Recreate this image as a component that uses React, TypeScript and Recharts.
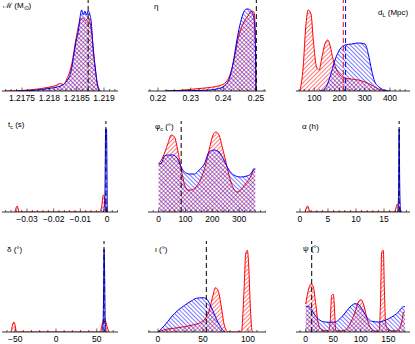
import React from 'react';
import { ComposedChart, Area, XAxis, YAxis, ReferenceLine } from 'recharts';

type Pt = [number, number];

const RED = '#ff0000';
const BLUE = '#0000ff';
const FONT = '"Liberation Sans", Arial, sans-serif';

// chirp mass
const mcRed: Pt[] = [[1.2172, 0], [1.2175, 0.5], [1.21771, 1.5], [1.21801, 4], [1.21812, 5.5], [1.2182, 7.5], [1.21826, 6.5], [1.21832, 12], [1.21841, 27], [1.21849, 53], [1.21856, 70], [1.21862, 73], [1.21866, 70], [1.21871, 73], [1.21877, 60], [1.21884, 23], [1.21889, 3], [1.21893, 0]];
const mcBlue: Pt[] = [[1.2174, 0], [1.21771, 0.7], [1.21801, 2.7], [1.2182, 5], [1.21832, 10], [1.21841, 23], [1.21845, 37], [1.21849, 50], [1.21853, 60], [1.21856, 73], [1.21859, 81], [1.21862, 76], [1.21865, 80], [1.21868, 76], [1.21871, 80], [1.21874, 77], [1.21877, 67], [1.2188, 43], [1.21884, 23], [1.21887, 10], [1.2189, 3], [1.21894, 0]];
const mcTicks = [1.2175, 1.218, 1.2185, 1.219];
const mcTickLabels = ['1.2175', '1.218', '1.2185', '1.219'];

// symmetric mass ratio
const etaRed: Pt[] = [[0.222, 0], [0.2261, 0.5], [0.2302, 1.7], [0.2343, 3], [0.2384, 5], [0.2404, 7.7], [0.2419, 15], [0.2435, 35], [0.2445, 52], [0.246, 67], [0.2475, 75], [0.2486, 80], [0.2494, 79], [0.2498, 58], [0.25, 0]];
const etaBlue: Pt[] = [[0.2225, 0], [0.2261, 0.2], [0.2343, 0.7], [0.2384, 2.3], [0.2409, 6.7], [0.2419, 13], [0.243, 28], [0.244, 48], [0.245, 65], [0.246, 77], [0.247, 82], [0.2475, 82], [0.2486, 80], [0.2494, 72], [0.2498, 45], [0.25, 0]];
const etaTicks = [0.22, 0.23, 0.24, 0.25];
const etaTickLabels = ['0.22', '0.23', '0.24', '0.25'];

// luminosity distance
const dlRed: Pt[] = [[43, 0], [56, 24], [66, 64], [76, 81], [87, 77], [96, 51], [109, 24], [119, 21], [129, 32], [142, 47], [153, 51], [162, 46], [175, 31], [189, 21], [202, 16], [222, 13], [248, 12], [274, 11], [301, 9], [327, 6], [353, 2.3], [380, 0]];
const dlBlue: Pt[] = [[123, 0], [142, 2.3], [162, 14], [182, 31], [202, 42], [222, 46], [248, 47], [274, 48], [301, 47], [314, 37], [327, 21], [340, 9], [360, 3.3], [380, 0.7], [400, 0]];
const dlTicks = [100, 200, 300, 400];
const dlTickLabels = ['100', '200', '300', '400'];

// coalescence time
const tcRed: Pt[] = [[-0.0345, 0], [-0.0337, 6], [-0.0329, 0], [-0.0029, 0], [-0.002, 5], [-0.0014, 17], [-0.0009, 14], [-0.0004, 5], [-0.0001, 0]];
const tcBlue: Pt[] = [[-0.0013, 0], [-0.0008, 15], [-0.0005, 83], [-0.0002, 83], [0.0001, 0]];
const tcTicks = [-0.03, -0.02, -0.01, 0];
const tcTickLabels = ['\u22120.03', '\u22120.02', '\u22120.01', '0'];

// coalescence phase
const phiRed: Pt[] = [[0, 48], [16, 55], [34, 68], [47, 77], [59, 75], [71, 62], [84, 43], [96, 28], [108, 22], [120, 22], [139, 25], [157, 33], [176, 48], [188, 62], [200, 75], [213, 80], [225, 77], [237, 65], [249, 52], [262, 37], [280, 23], [292, 20], [305, 22], [323, 28], [342, 35], [354, 42], [360, 43]];
const phiBlue: Pt[] = [[0, 48], [10, 49], [22, 56], [34, 57], [53, 57], [71, 53], [84, 45], [96, 40], [114, 38], [133, 38], [151, 42], [170, 48], [188, 60], [206, 62], [225, 60], [243, 52], [262, 42], [280, 37], [305, 35], [329, 36], [348, 40], [354, 43], [360, 43]];
const phiTicks = [0, 100, 200, 300];
const phiTickLabels = ['0', '100', '200', '300'];

// right ascension
const raRed: Pt[] = [[0.9, 0], [1.37, 6], [1.8, 0], [16.9, 0], [17.37, 8], [17.8, 3], [18.1, 0]];
const raBlue: Pt[] = [[17.45, 0], [17.6, 20], [17.7, 83], [17.8, 30], [17.95, 0]];
const raTicks = [0, 5, 10, 15];
const raTickLabels = ['0', '5', '10', '15'];

// declination
const decRed: Pt[] = [[-55, 0], [-51.4, 10], [-48, 0], [54, 0], [56, 6], [58, 12], [59.5, 14], [61, 10], [63, 4], [65, 0]];
const decBlue: Pt[] = [[56, 0], [57.5, 8], [58.3, 40], [58.8, 83], [59.5, 60], [60.3, 10], [61.5, 0]];
const decTicks = [-50, 0, 50];
const decTickLabels = ['\u221250', '0', '50'];

// inclination
const incRed: Pt[] = [[0, 0], [7.4, 2.3], [22.2, 4.3], [37, 6.7], [48.1, 10], [53.7, 15], [57.4, 23], [61.1, 36.7], [63.7, 44.3], [66.7, 41.7], [70.4, 25], [73.3, 8.3], [75.9, 1.7], [78.5, 0], [92.6, 0], [95.6, 41.7], [97.4, 78], [99.3, 81.7], [100.7, 68], [102.6, 25], [104.4, 1.7], [105.6, 0]];
const incBlue: Pt[] = [[0, 0], [7.4, 6.7], [14.8, 15], [22.2, 21.7], [29.6, 26.7], [37, 31], [42.6, 33.7], [50, 34.3], [53.7, 33.3], [57.4, 28.3], [61.1, 21], [64.8, 13.3], [68.5, 6.7], [72.2, 1.7], [74.8, 0]];
const incTicks = [0, 50, 100];
const incTickLabels = ['0', '50', '100'];

// polarisation angle
const psiRed: Pt[] = [[0, 28], [4.8, 41.7], [9.7, 48.3], [13.9, 45], [18.2, 28.3], [23, 8.3], [29, 2.3], [41.2, 1], [44.2, 8.3], [47.2, 36.7], [50.2, 37.7], [52.1, 25], [54.5, 1.7], [59.3, 1], [71.4, 1.7], [80.5, 8.3], [89.6, 20], [95.6, 30], [100.5, 32.3], [104.7, 28.3], [110.8, 15], [116.8, 5], [125.9, 1], [133.2, 1], [135.6, 25], [138, 80], [141, 81.7], [142.9, 41.7], [145.3, 8.3], [150.1, 1.7], [162.2, 1], [169.5, 3.3], [174.3, 10], [178, 20], [180, 20]];
const psiBlue: Pt[] = [[0, 25.7], [4.8, 25.7], [10.9, 22.3], [16.9, 16.7], [26, 11.7], [35.1, 10], [44.2, 9.7], [53.3, 10], [62.3, 13.3], [71.4, 19], [80.5, 25], [89.6, 28.3], [95.6, 27.7], [101.7, 23.3], [110.8, 15], [119.9, 10.7], [132, 10], [144.1, 11.7], [156.2, 15], [168.3, 20], [176.2, 25], [180, 25.5]];
const psiTicks = [0, 50, 100, 150];
const psiTickLabels = ['0', '50', '100', '150'];

const PLOT_H = 91;

function merge(red: Pt[], blue: Pt[]) {
  const rows = new Map<number, { x: number; r?: number; b?: number }>();
  red.forEach(([x, y]) => {
    const row = rows.get(x) ?? { x };
    row.r = y;
    rows.set(x, row);
  });
  blue.forEach(([x, y]) => {
    const row = rows.get(x) ?? { x };
    row.b = y;
    rows.set(x, row);
  });
  return [...rows.values()].sort((a, b) => a.x - b.x);
}

function tickList(domain: number[], step: number) {
  const out: number[] = [];
  const start = Math.ceil(domain[0] / step - 1e-9);
  const end = Math.floor(domain[1] / step + 1e-9);
  for (let k = start; k <= end; k++) out.push(+(k * step).toFixed(8));
  return out;
}

function makeTick(majors: number[], labels: string[]) {
  return (props: any) => {
    const { x, y, payload } = props;
    const i = majors.findIndex((m) => Math.abs(m - payload.value) < 1e-9);
    const major = i >= 0;
    return (
      <g>
        <line x1={x} x2={x} y1={y} y2={y - (major ? 3.5 : 2)} stroke="#000" strokeWidth={0.6} />
        {major && (
          <text x={x} y={y + 10} textAnchor="middle" fontSize={8.5} fontFamily={FONT} fill="#000">
            {labels[i]}
          </text>
        )}
      </g>
    );
  };
}

type Mark = { x: number; color: string };

type PanelDef = {
  left: number;
  width: number;
  base: number;
  domain: number[];
  minor: number;
  majors: number[];
  labels: string[];
  red: Pt[];
  blue: Pt[];
  marks: Mark[];
};

const panels: PanelDef[] = [
  { left: 2, width: 116, base: 91, domain: [1.217134, 1.219256], minor: 0.0001, majors: mcTicks, labels: mcTickLabels, red: mcRed, blue: mcBlue, marks: [{ x: 1.21871, color: '#000' }] },
  { left: 148, width: 118, base: 91, domain: [0.21694, 0.25306], minor: 0.0025, majors: etaTicks, labels: etaTickLabels, red: etaRed, blue: etaBlue, marks: [{ x: 0.2501, color: '#000' }] },
  { left: 296, width: 114, base: 91, domain: [27.5, 479.3], minor: 20, majors: dlTicks, labels: dlTickLabels, red: dlRed, blue: dlBlue, marks: [{ x: 215, color: RED }, { x: 224, color: BLUE }] },
  { left: 2, width: 116, base: 212, domain: [-0.039375, 0.004125], minor: 0.002, majors: tcTicks, labels: tcTickLabels, red: tcRed, blue: tcBlue, marks: [{ x: -0.0004, color: '#000' }] },
  { left: 148, width: 118, base: 212, domain: [-39.6, 400], minor: 20, majors: phiTicks, labels: phiTickLabels, red: phiRed, blue: phiBlue, marks: [{ x: 84, color: '#000' }] },
  { left: 296, width: 114, base: 212, domain: [-0.71, 19.64], minor: 1, majors: raTicks, labels: raTickLabels, red: raRed, blue: raBlue, marks: [{ x: 17.7, color: '#000' }] },
  { left: 2, width: 116, base: 332, domain: [-66.1, 75.9], minor: 10, majors: decTicks, labels: decTickLabels, red: decRed, blue: decBlue, marks: [{ x: 58.8, color: '#000' }] },
  { left: 148, width: 118, base: 332, domain: [-11.1, 120], minor: 10, majors: incTicks, labels: incTickLabels, red: incRed, blue: incBlue, marks: [{ x: 53.7, color: '#000' }] },
  { left: 296, width: 114, base: 332, domain: [-17.6, 189.4], minor: 10, majors: psiTicks, labels: psiTickLabels, red: psiRed, blue: psiBlue, marks: [{ x: 10.9, color: '#000' }] },
];

function Panel({ p }: { p: PanelDef }) {
  const data = merge(p.red, p.blue);
  const ticks = tickList(p.domain, p.minor);
  return (
    <div style={{ position: 'absolute', left: p.left, top: p.base - PLOT_H }}>
      <ComposedChart width={p.width} height={PLOT_H + 13} data={data} margin={{ top: 0, right: 0, bottom: 0, left: 0 }}>
        <XAxis
          type="number"
          dataKey="x"
          domain={p.domain}
          allowDataOverflow
          ticks={ticks}
          interval={0}
          tick={makeTick(p.majors, p.labels)}
          tickLine={false}
          tickSize={0}
          tickMargin={0}
          axisLine={{ stroke: '#000', strokeWidth: 0.8 }}
          height={13}
        />
        <YAxis hide type="number" domain={[0, PLOT_H]} allowDataOverflow />
        <Area type="monotone" dataKey="r" stroke={RED} strokeWidth={1} fill="url(#hatchRed)" fillOpacity={1} connectNulls dot={false} activeDot={false} isAnimationActive={false} />
        <Area type="monotone" dataKey="b" stroke={BLUE} strokeWidth={1} fill="url(#hatchBlue)" fillOpacity={1} connectNulls dot={false} activeDot={false} isAnimationActive={false} />
        {p.marks.map((m, i) => (
          <ReferenceLine key={i} x={m.x} stroke={m.color} strokeWidth={1} strokeDasharray="5 3" />
        ))}
      </ComposedChart>
    </div>
  );
}

const sub: React.CSSProperties = { fontSize: 5.5, verticalAlign: 'baseline', position: 'relative', top: 2 };

const titles: { left: number; top: number; content: React.ReactNode }[] = [
  { left: 3, top: 1, content: <>ℳ (M<span style={sub}>⊙</span>)</> },
  { left: 154, top: 2, content: <>η</> },
  { left: 378, top: 8, content: <>d<span style={sub}>L</span> (Mpc)</> },
  { left: 8, top: 120, content: <>t<span style={sub}>c</span> (s)</> },
  { left: 155, top: 122, content: <>φ<span style={sub}>c</span> (°)</> },
  { left: 302, top: 122, content: <>α (h)</> },
  { left: 7, top: 245, content: <>δ (°)</> },
  { left: 155, top: 245, content: <>ι (°)</> },
  { left: 303, top: 244, content: <>ψ (°)</> },
];

export default function App() {
  return (
    <div style={{ position: 'absolute', left: 0, top: 0, width: 415, height: 344, background: '#fff', overflow: 'hidden' }}>
      <svg width={0} height={0} style={{ position: 'absolute' }}>
        <defs>
          <pattern id="hatchRed" patternUnits="userSpaceOnUse" width={3} height={3} patternTransform="rotate(45)">
            <line x1={0.5} y1={0} x2={0.5} y2={3} stroke={RED} strokeWidth={0.7} strokeOpacity={0.75} />
          </pattern>
          <pattern id="hatchBlue" patternUnits="userSpaceOnUse" width={3} height={3} patternTransform="rotate(-45)">
            <line x1={0.5} y1={0} x2={0.5} y2={3} stroke={BLUE} strokeWidth={0.7} strokeOpacity={0.75} />
          </pattern>
        </defs>
      </svg>
      {panels.map((p, i) => (
        <Panel key={i} p={p} />
      ))}
      {titles.map((t, i) => (
        <div key={i} style={{ position: 'absolute', left: t.left, top: t.top, fontFamily: FONT, fontSize: 8, lineHeight: '10px', color: '#000', whiteSpace: 'nowrap' }}>
          {t.content}
        </div>
      ))}
    </div>
  );
}
